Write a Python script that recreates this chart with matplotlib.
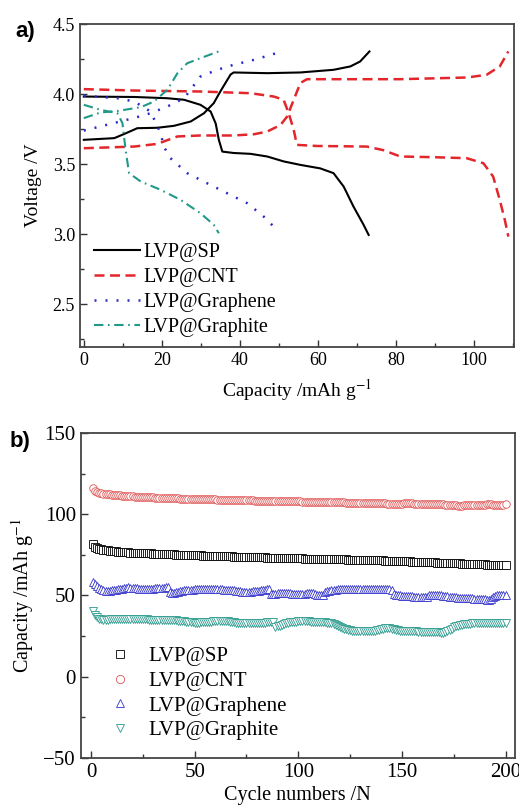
import numpy as np
import matplotlib.pyplot as plt
from matplotlib.ticker import MultipleLocator

plt.rcParams['font.family'] = ['Liberation Serif', 'DejaVu Serif']
plt.rcParams['mathtext.fontset'] = 'stix'

# ---- panel a: charge / discharge curves (capacity mAh/g, voltage V) ----
sp_chg_x = [0, 7.8, 10.7, 13.7, 18.8, 23.1, 27.4, 30.8, 33.3, 35.0, 37.6, 38.4, 47.0, 55.5, 64.0, 68.3, 70.8, 73.2]
sp_chg_y = [3.674, 3.686, 3.72, 3.757, 3.76, 3.774, 3.805, 3.864, 3.936, 4.02, 4.14, 4.155, 4.15, 4.155, 4.174, 4.198, 4.233, 4.305]
sp_dis_x = [0, 12.9, 21.4, 25.7, 29.9, 32.5, 33.8, 34.6, 35.5, 38.4, 42.7, 47.0, 51.2, 55.5, 60.6, 64.0, 66.6, 69.1, 71.7, 73.0]
sp_dis_y = [3.983, 3.98, 3.971, 3.96, 3.924, 3.876, 3.79, 3.674, 3.59, 3.58, 3.574, 3.555, 3.52, 3.495, 3.47, 3.436, 3.34, 3.198, 3.067, 2.995]

cnt_chg_x = [0, 12.9, 18.8, 24.0, 29.9, 38.4, 43.6, 47.0, 50.4, 52.1, 53.8, 55.5, 57.2, 64.0, 81.0, 98.1, 103.2, 106.6, 108.8]
cnt_chg_y = [3.614, 3.626, 3.645, 3.698, 3.705, 3.705, 3.714, 3.733, 3.78, 3.84, 3.96, 4.08, 4.107, 4.107, 4.107, 4.119, 4.138, 4.198, 4.305]
cnt_dis_x = [0, 12.9, 29.9, 42.7, 48.7, 51.2, 52.5, 53.8, 54.6, 59.8, 72.5, 76.8, 81.1, 89.6, 98.1, 102.4, 104.9, 106.6, 107.9, 108.8]
cnt_dis_y = [4.036, 4.026, 4.019, 4.007, 3.983, 3.96, 3.864, 3.745, 3.638, 3.63, 3.626, 3.60, 3.555, 3.55, 3.543, 3.507, 3.412, 3.245, 3.102, 2.983]

gr_chg_x = [0, 4.3, 12.9, 17.1, 21.4, 25.7, 29.9, 34.2, 38.4, 43.6, 50.8]
gr_chg_y = [3.74, 3.77, 3.83, 3.864, 3.912, 3.971, 4.126, 4.174, 4.21, 4.245, 4.305]
gr_dis_x = [0, 8.6, 12.9, 17.1, 19.7, 20.5, 22.2, 26.5, 31.6, 36.7, 41.9, 46.1, 49.5]
gr_dis_y = [3.988, 3.971, 3.948, 3.876, 3.72, 3.626, 3.543, 3.436, 3.364, 3.293, 3.221, 3.126, 3.031]

gt_chg_x = [0, 4.3, 8.6, 14.6, 18.0, 21.4, 24.0, 26.5, 29.9, 35.0]
gt_chg_y = [3.829, 3.869, 3.88, 3.907, 3.948, 4.031, 4.15, 4.221, 4.257, 4.31]
gt_dis_x = [0, 4.3, 8.6, 9.9, 10.7, 11.6, 14.6, 19.7, 24.8, 29.9, 33.3, 34.6]
gt_dis_y = [3.924, 3.888, 3.864, 3.793, 3.602, 3.436, 3.376, 3.317, 3.245, 3.15, 3.067, 3.007]

labels = ['LVP@SP', 'LVP@CNT', 'LVP@Graphene', 'LVP@Graphite']

# ---- panel b: cycling capacity (mAh/g), cycles 1..200 ----
cycles = np.arange(1, 201)
cap_cnt = [
    116.0, 114.6, 113.9, 113.4, 113.0, 112.8, 112.6, 112.5, 112.3, 112.2,
    112.0, 111.9, 111.8, 111.7, 111.6, 111.5, 111.4, 111.3, 111.2, 111.1,
    111.0, 111.0, 110.9, 110.8, 110.8, 110.7, 110.6, 110.6, 110.5, 110.5,
    110.4, 110.4, 110.3, 110.3, 110.2, 110.2, 110.1, 110.1, 110.0, 110.0,
    109.9, 109.9, 109.8, 109.8, 109.7, 109.7, 109.6, 109.6, 109.5, 109.5,
    109.5, 109.4, 109.4, 109.4, 109.3, 109.3, 109.3, 109.2, 109.2, 109.2,
    109.1, 109.1, 109.1, 109.0, 109.0, 109.0, 108.9, 108.9, 108.9, 108.8,
    108.8, 108.8, 108.7, 108.7, 108.7, 108.6, 108.6, 108.6, 108.5, 108.5,
    108.5, 108.5, 108.4, 108.4, 108.4, 108.3, 108.3, 108.3, 108.3, 108.2,
    108.2, 108.2, 108.2, 108.1, 108.1, 108.1, 108.1, 108.0, 108.0, 108.0,
    108.0, 107.9, 107.9, 107.9, 107.9, 107.8, 107.8, 107.8, 107.8, 107.7,
    107.7, 107.7, 107.7, 107.6, 107.6, 107.6, 107.5, 107.5, 107.5, 107.4,
    107.4, 107.4, 107.3, 107.3, 107.3, 107.2, 107.2, 107.2, 107.1, 107.1,
    107.1, 107.0, 107.0, 107.0, 106.9, 106.9, 106.9, 106.9, 106.8, 106.8,
    106.8, 106.8, 106.7, 106.7, 106.7, 106.7, 106.6, 106.6, 106.6, 106.6,
    106.9, 106.9, 106.8, 106.8, 106.8, 106.7, 106.7, 106.7, 106.6, 106.6,
    106.6, 106.5, 106.5, 106.5, 106.4, 106.4, 106.4, 106.3, 106.3, 106.2,
    106.0, 105.8, 105.7, 105.6, 105.5, 105.5, 105.4, 105.4, 105.4, 105.5,
    105.5, 105.6, 105.6, 105.7, 105.8, 105.9, 106.0, 106.0, 106.1, 106.1,
    106.2, 106.2, 106.2, 106.1, 106.1, 106.0, 106.0, 106.0, 106.1, 106.2,
]
cap_sp = [
    81.5, 80.2, 79.4, 78.9, 78.6, 78.3, 78.1, 77.9, 77.7, 77.5,
    77.4, 77.3, 77.1, 77.0, 76.9, 76.8, 76.7, 76.6, 76.5, 76.4,
    76.4, 76.3, 76.2, 76.2, 76.1, 76.0, 76.0, 75.9, 75.9, 75.8,
    75.7, 75.7, 75.6, 75.6, 75.5, 75.5, 75.4, 75.4, 75.3, 75.3,
    75.2, 75.2, 75.1, 75.1, 75.0, 75.0, 74.9, 74.9, 74.8, 74.8,
    74.8, 74.7, 74.7, 74.6, 74.6, 74.5, 74.5, 74.5, 74.4, 74.4,
    74.3, 74.3, 74.3, 74.2, 74.2, 74.1, 74.1, 74.1, 74.0, 74.0,
    73.9, 73.9, 73.9, 73.8, 73.8, 73.7, 73.7, 73.7, 73.6, 73.6,
    73.6, 73.5, 73.5, 73.5, 73.4, 73.4, 73.4, 73.3, 73.3, 73.3,
    73.2, 73.2, 73.2, 73.1, 73.1, 73.1, 73.0, 73.0, 73.0, 72.9,
    72.9, 72.9, 72.8, 72.8, 72.8, 72.7, 72.7, 72.7, 72.6, 72.6,
    72.6, 72.5, 72.5, 72.5, 72.4, 72.4, 72.4, 72.3, 72.3, 72.3,
    72.2, 72.2, 72.2, 72.1, 72.1, 72.1, 72.0, 72.0, 72.0, 71.9,
    71.9, 71.9, 71.8, 71.8, 71.8, 71.7, 71.7, 71.7, 71.6, 71.6,
    71.6, 71.5, 71.5, 71.5, 71.4, 71.4, 71.3, 71.3, 71.2, 71.2,
    71.1, 71.1, 71.0, 71.0, 70.9, 70.9, 70.8, 70.8, 70.7, 70.7,
    70.6, 70.6, 70.5, 70.5, 70.4, 70.4, 70.3, 70.3, 70.2, 70.2,
    70.1, 70.1, 70.0, 70.0, 69.9, 69.9, 69.8, 69.8, 69.7, 69.7,
    69.6, 69.6, 69.5, 69.5, 69.4, 69.4, 69.3, 69.3, 69.2, 69.2,
    69.1, 69.1, 69.0, 69.0, 68.9, 68.9, 68.8, 68.8, 68.7, 68.7,
]
cap_graphene = [
    58.2, 56.8, 55.6, 54.6, 53.8, 53.2, 52.9, 52.8, 53.0, 53.2,
    53.4, 53.6, 53.8, 54.0, 54.2, 54.4, 54.7, 55.0, 54.8, 54.6,
    54.5, 54.4, 54.3, 54.2, 54.1, 54.0, 54.0, 54.1, 54.2, 54.3,
    54.4, 54.5, 54.6, 54.7, 54.9, 55.1, 55.3, 52.0, 51.6, 51.8,
    52.0, 52.3, 52.6, 52.9, 53.1, 53.3, 53.4, 53.5, 53.6, 53.7,
    53.8, 53.9, 53.9, 54.0, 54.0, 54.0, 54.0, 53.9, 53.9, 53.8,
    53.8, 53.7, 53.7, 53.6, 53.5, 53.4, 53.3, 53.2, 53.1, 53.0,
    52.8, 52.6, 52.4, 52.3, 52.2, 52.3, 52.4, 52.5, 52.6, 52.8,
    53.0, 53.2, 53.4, 53.6, 53.8, 54.0, 51.2, 51.0, 51.2, 51.4,
    51.5, 51.6, 51.6, 51.5, 51.4, 51.3, 51.2, 51.1, 51.0, 50.9,
    51.0, 51.1, 51.2, 51.3, 51.4, 51.5, 51.3, 51.0, 50.6, 50.2,
    50.0, 50.0, 52.2, 52.6, 53.0, 53.3, 53.5, 53.6, 53.7, 53.8,
    53.9, 54.0, 54.1, 54.2, 54.2, 54.3, 54.3, 54.3, 54.3, 54.3,
    54.3, 54.2, 54.2, 54.2, 54.1, 54.1, 54.0, 54.0, 54.0, 53.9,
    53.9, 53.8, 53.8, 53.7, 53.6, 51.0, 50.5, 50.2, 50.0, 49.9,
    49.8, 49.7, 49.6, 49.5, 49.4, 49.3, 49.2, 49.1, 49.0, 48.9,
    48.9, 49.0, 50.3, 50.4, 50.4, 50.3, 50.2, 50.1, 50.0, 49.8,
    49.6, 49.4, 49.2, 49.0, 48.9, 48.8, 48.7, 48.6, 48.5, 48.5,
    48.5, 48.4, 48.3, 48.2, 48.1, 48.0, 47.9, 47.8, 47.7, 47.6,
    47.5, 47.4, 48.0, 49.0, 49.6, 50.0, 50.4, 50.6, 50.5, 50.3,
]
cap_graphite = [
    40.3, 38.0, 36.6, 35.8, 35.3, 35.0, 35.0, 35.1, 35.2, 35.3,
    35.4, 35.5, 35.6, 35.6, 35.7, 35.7, 35.7, 35.6, 35.6, 35.5,
    35.5, 35.4, 35.4, 35.3, 35.3, 35.2, 35.2, 35.1, 35.1, 35.0,
    35.0, 35.0, 34.9, 34.9, 34.9, 34.8, 34.8, 34.8, 34.7, 34.7,
    34.6, 34.5, 34.4, 34.3, 34.1, 33.9, 33.7, 33.5, 33.4, 33.3,
    33.3, 33.3, 33.4, 33.5, 33.6, 33.7, 33.8, 33.9, 34.0, 34.1,
    34.2, 34.3, 34.4, 34.4, 34.3, 34.1, 33.8, 33.6, 33.4, 33.2,
    33.1, 33.0, 33.0, 32.9, 32.9, 32.8, 32.8, 32.8, 32.8, 32.9,
    33.0, 33.1, 33.2, 33.3, 33.4, 33.5, 33.5, 33.4, 30.8, 30.9,
    31.3, 31.8, 32.3, 32.8, 33.2, 33.5, 33.7, 33.8, 33.9, 34.0,
    34.0, 34.0, 34.0, 34.0, 34.0, 33.9, 33.9, 33.9, 33.8, 33.8,
    33.7, 33.6, 33.5, 33.3, 33.1, 32.8, 32.4, 31.8, 31.2, 30.6,
    30.1, 29.6, 29.2, 28.8, 28.5, 28.3, 28.1, 27.9, 27.8, 27.8,
    27.8, 27.8, 27.9, 28.0, 28.1, 28.2, 28.4, 28.6, 28.9, 29.2,
    29.5, 29.7, 29.8, 29.8, 29.6, 29.2, 28.8, 28.5, 28.3, 28.2,
    28.1, 28.0, 28.0, 27.9, 27.9, 27.8, 27.8, 27.7, 27.7, 27.7,
    27.6, 27.6, 27.6, 27.5, 27.5, 27.4, 27.3, 27.2, 27.0, 26.9,
    27.3, 28.0, 28.8, 29.6, 30.3, 30.9, 31.4, 31.8, 32.1, 32.3,
    32.5, 32.6, 32.7, 32.8, 32.8, 32.9, 32.9, 32.9, 32.9, 33.0,
    33.0, 33.0, 33.0, 33.0, 33.0, 33.0, 33.0, 32.9, 32.9, 32.9,
]

c_sp, c_cnt, c_gr, c_gt = 'black', '#e3262b', '#2b2bc8', '#1f9a8a'

fig = plt.figure(figsize=(5.19, 8.05), dpi=100)
ax1 = fig.add_axes([0.154, 0.569, 0.836, 0.401])
ax2 = fig.add_axes([0.1555, 0.0588, 0.8365, 0.4029])

# panel a
ax1.plot(sp_chg_x, sp_chg_y, color=c_sp, lw=1.5, label=labels[0])
ax1.plot(sp_dis_x, sp_dis_y, color=c_sp, lw=1.5)
ax1.plot(cnt_chg_x, cnt_chg_y, color=c_cnt, lw=1.8, dashes=(4, 2.2), label=labels[1])
ax1.plot(cnt_dis_x, cnt_dis_y, color=c_cnt, lw=1.8, dashes=(4, 2.2))
ax1.plot(gr_chg_x, gr_chg_y, color=c_gr, lw=1.8, dashes=(0.8, 3.6), label=labels[2])
ax1.plot(gr_dis_x, gr_dis_y, color=c_gr, lw=1.8, dashes=(0.8, 3.6))
ax1.plot(gt_chg_x, gt_chg_y, color=c_gt, lw=1.5, dashes=(4.5, 2.2, 0.8, 2.2), label=labels[3])
ax1.plot(gt_dis_x, gt_dis_y, color=c_gt, lw=1.5, dashes=(4.5, 2.2, 0.8, 2.2))

ax1.set_xlim(-1, 110.2)
ax1.set_ylim(2.195, 4.5)
ax1.xaxis.set_major_locator(MultipleLocator(20))
ax1.xaxis.set_minor_locator(MultipleLocator(10))
ax1.yaxis.set_major_locator(MultipleLocator(0.5))
ax1.yaxis.set_minor_locator(MultipleLocator(0.25))
ax1.set_xlabel('Capacity /mAh g$^{-1}$', fontsize=14, labelpad=6)
ax1.set_ylabel('Voltage /V', fontsize=14, labelpad=8)
ax1.legend(loc='lower left', bbox_to_anchor=(0.0, -0.013), frameon=False, fontsize=14.5,
           handlelength=2.3, handletextpad=0.15, labelspacing=0.3, borderaxespad=0.3)
ax1.tick_params(labelsize=13)
fig.text(15 / 519, 1 - 31 / 805, 'a)', fontsize=16, fontweight='bold',
         family='Liberation Sans', va='center', ha='left')

# panel b
mk = dict(ls='none', markersize=5.4, markeredgewidth=0.6, markerfacecolor='white')
ax2.plot(cycles, cap_sp, marker='s', color=c_sp, label=labels[0], **mk)
ax2.plot(cycles, cap_cnt, marker='o', color='#e05555', label=labels[1], **mk)
ax2.plot(cycles, cap_graphene, marker='^', color='#3535cc', label=labels[2], **mk)
ax2.plot(cycles, cap_graphite, marker='v', color='#2a9a8c', label=labels[3], **mk)

ax2.set_xlim(-5, 204.5)
ax2.set_ylim(-50, 150)
ax2.xaxis.set_major_locator(MultipleLocator(50))
ax2.xaxis.set_minor_locator(MultipleLocator(25))
ax2.yaxis.set_major_locator(MultipleLocator(50))
ax2.yaxis.set_minor_locator(MultipleLocator(25))
ax2.set_xlabel('Cycle numbers /N', fontsize=14.5, labelpad=3)
ax2.set_ylabel('Capacity /mAh g$^{-1}$', fontsize=14.5, labelpad=5)
ax2.legend(loc='lower left', bbox_to_anchor=(0.032, 0.008), frameon=False, fontsize=15,
           handlelength=1.0, handletextpad=0.9, labelspacing=0.25, markerscale=1.1,
           borderpad=0.2)
ax2.tick_params(labelsize=15)
fig.text(10 / 519, 1 - 441 / 805, 'b)', fontsize=16, fontweight='bold',
         family='Liberation Sans', va='center', ha='left')

for ax in (ax1, ax2):
    ax.tick_params(which='both', direction='in', top=False, right=False,
                   colors='#333333', labelcolor='black')
    ax.tick_params(which='major', length=5, width=1)
    ax.tick_params(which='minor', length=3, width=1)
    for s in ax.spines.values():
        s.set_linewidth(1.3)
        s.set_color('#444444')

fig.savefig('out.png', dpi=100)
